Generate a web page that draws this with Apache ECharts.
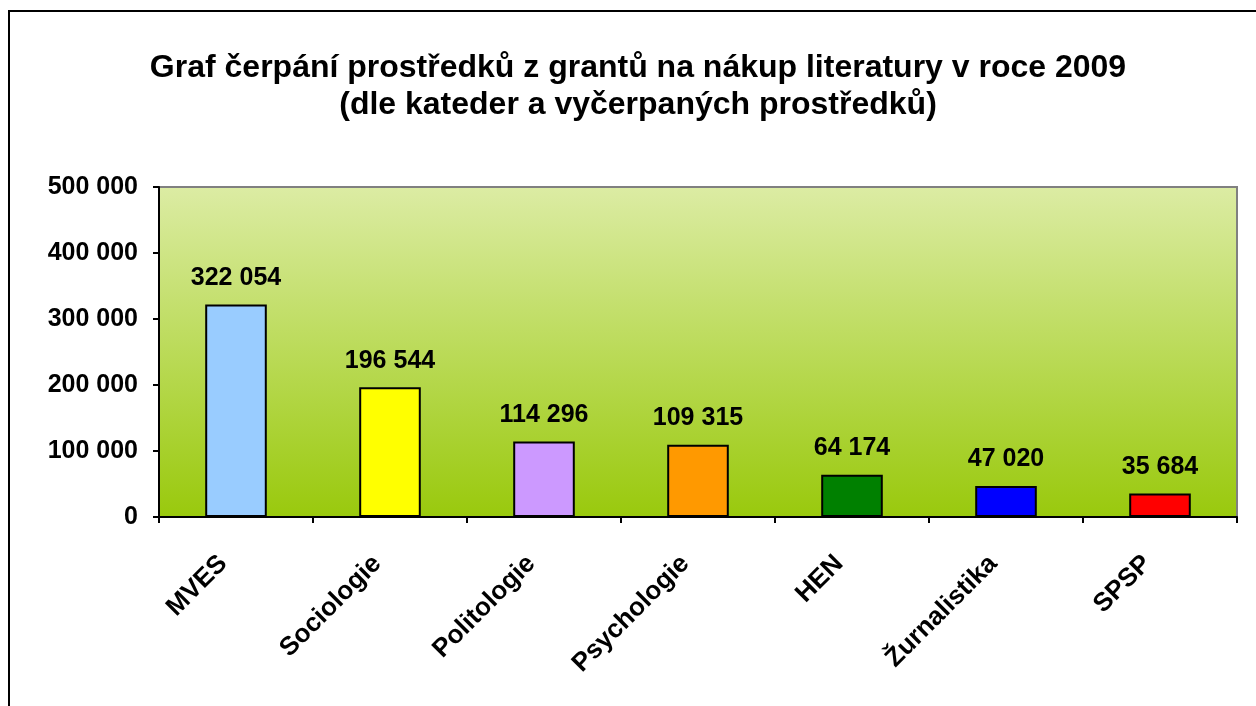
<!DOCTYPE html>
<html lang="cs">
  <head>
    <meta charset="UTF-8" />
    <title>Graf čerpání prostředků z grantů</title>
    <script src="https://cdn.jsdelivr.net/npm/echarts@6/dist/echarts.min.js"></script>
    <style>
      * { margin: 0; padding: 0; box-sizing: border-box; }
      body { overflow: hidden; background: #fff; }
      #chart { width: 1256px; height: 706px; }
    </style>
  </head>
  <body>
    <div id="chart"></div>
    <script>
      const categories = ["MVES", "Sociologie", "Politologie", "Psychologie", "HEN", "Žurnalistika", "SPSP"];
      const values = [322054, 196544, 114296, 109315, 64174, 47020, 35684];
      const barColors = ["#99ccff", "#ffff00", "#cc99ff", "#ff9900", "#008000", "#0000ff", "#ff0000"];

      const font = "'Liberation Sans', Arial, sans-serif";

      // thousands separated by a space, like the original
      function fmt(v) {
        return String(v).replace(/\B(?=(\d{3})+(?!\d))/g, " ");
      }

      const chart = echarts.init(document.getElementById("chart"));

      chart.setOption({
        animation: false,
        backgroundColor: "#ffffff",
        title: {
          text: "Graf čerpání prostředků z grantů na nákup literatury v roce 2009\n(dle kateder a vyčerpaných prostředků)",
          left: 633,
          textAlign: "center",
          top: 45,
          textStyle: {
            fontFamily: font,
            fontWeight: "bold",
            fontSize: 32,
            lineHeight: 37,
            color: "#000",
          },
        },
        graphic: [
          {
            type: "rect",
            shape: { x: 9, y: 11, width: 1300, height: 800 },
            style: { fill: "none", stroke: "#000", lineWidth: 2 },
            z: 100,
          },
        ],
        grid: {
          left: 159,
          right: 19,
          top: 187,
          bottom: 189,
          show: true,
          borderColor: "#808080",
          borderWidth: 2,
          backgroundColor: new echarts.graphic.LinearGradient(0, 0, 0, 1, [
            { offset: 0, color: "#dceca4" },
            { offset: 1, color: "#99c90c" },
          ]),
        },
        xAxis: {
          type: "category",
          data: categories,
          axisLine: { lineStyle: { color: "#000", width: 2 } },
          axisTick: { show: true, length: 6, lineStyle: { color: "#000", width: 2 } },
          axisLabel: {
            rotate: 45,
            margin: 30,
            padding: [0, 18, 0, 0],
            fontFamily: font,
            fontWeight: "bold",
            fontSize: 26,
            color: "#000",
          },
        },
        yAxis: {
          type: "value",
          min: 0,
          max: 500000,
          interval: 100000,
          splitLine: { show: false },
          axisLine: { show: true, lineStyle: { color: "#000", width: 2 } },
          axisTick: { show: true, length: 6, lineStyle: { color: "#000", width: 2 } },
          axisLabel: {
            margin: 21,
            formatter: fmt,
            fontFamily: font,
            fontWeight: "bold",
            fontSize: 25,
            color: "#000",
          },
        },
        series: [
          {
            type: "bar",
            barWidth: "40%",
            data: values.map((v, i) => ({
              value: v,
              itemStyle: { color: barColors[i], borderColor: "#000", borderWidth: 2 },
            })),
            label: {
              show: true,
              position: "top",
              distance: 14,
              formatter: (p) => fmt(p.value),
              fontFamily: font,
              fontWeight: "bold",
              fontSize: 25,
              color: "#000",
            },
          },
        ],
      });
    </script>
  </body>
</html>
